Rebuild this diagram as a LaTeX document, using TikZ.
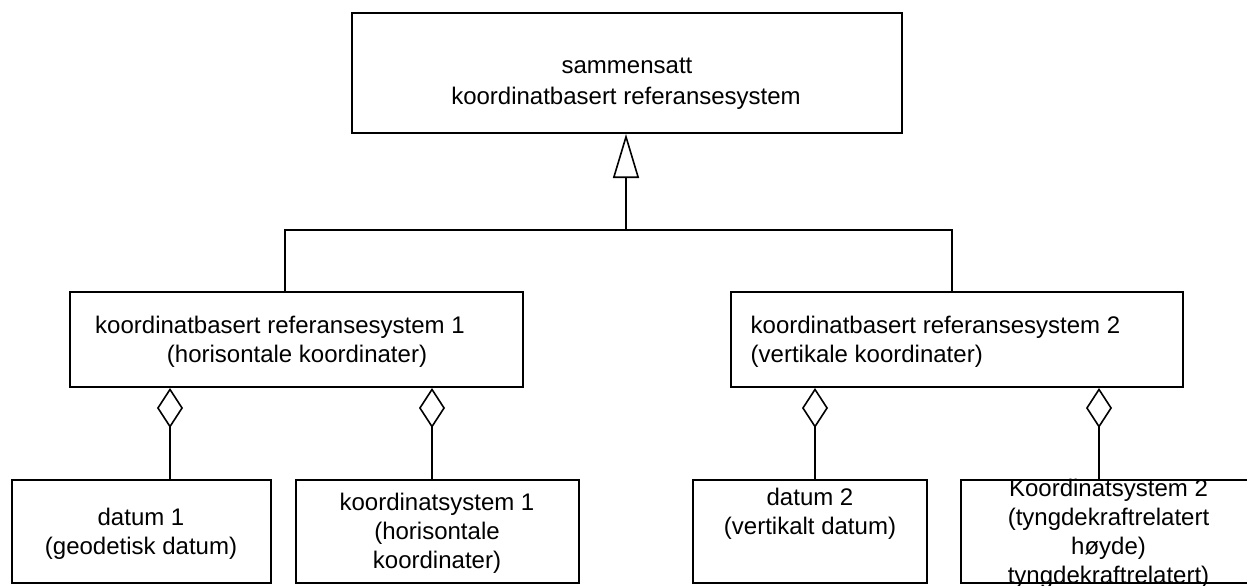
\documentclass[tikz,border=0pt]{standalone}
\usepackage{fontspec}
\setmainfont{Liberation Sans}
\usetikzlibrary{arrows.meta}
\begin{document}
\begin{tikzpicture}[x=1pt,y=-1pt,
  box/.style={draw, line width=2pt, rectangle, inner sep=0pt},
  lbl/.style={inner sep=0pt, font=\fontsize{24}{29}\selectfont},
  conn/.style={line width=1.6pt},
  agg/.style={conn, {Diamond[open,length=40pt,width=26pt]}-},
  gen/.style={conn, -{Triangle[open,length=44pt,width=26pt]}}]
\useasboundingbox (0,0) rectangle (1247,586);
\clip (0,0) rectangle (1247,586);

% boxes
\node[box, minimum width=550pt, minimum height=120pt] (top) at (627,73) {};
\node[box, minimum width=453pt, minimum height=95pt] (box1) at (296.5,339.5) {};
\node[box, minimum width=452pt, minimum height=95pt] (box2) at (957,339.5) {};
\node[box, minimum width=259pt, minimum height=103pt] (box3) at (141.5,531.5) {};
\node[box, minimum width=283pt, minimum height=103pt] (box4) at (437.5,531.5) {};
\node[box, minimum width=234pt, minimum height=103pt] (box5) at (810,531.5) {};
\node[box, minimum width=299pt, minimum height=103pt] (box6) at (1110.5,531.5) {};

% helper coordinates
\coordinate (j) at (626,230);
\coordinate (p1) at (285,230);
\coordinate (p2) at (952,230);
\coordinate (d1) at (170,0);
\coordinate (d2) at (432,0);
\coordinate (d3) at (815,0);
\coordinate (d4) at (1099,0);

% connectors
\draw[gen] (j) -- (top.south -| j);
\draw[conn] (box1.north -| p1) -- (p1) -- (p2) -- (box2.north -| p2);
\draw[agg] (box1.south -| d1) -- (box3.north -| d1);
\draw[agg] (box1.south -| d2) -- (box4.north -| d2);
\draw[agg] (box2.south -| d3) -- (box5.north -| d3);
\draw[agg] (box2.south -| d4) -- (box6.north -| d4);

% texts
\node[lbl, anchor=base] (t0a) at (627,74) {sammensatt};
\node[lbl, anchor=base] (t0b) at (626,104) {koordinatbasert referansesystem};

\node[lbl, anchor=base] (t1a) at (280,333) {koordinatbasert referansesystem 1};
\node[lbl, anchor=base] (t1b) at (297,362) {(horisontale koordinater)};

\node[lbl, anchor=base west] (t2a) at (750.5,333) {koordinatbasert referansesystem 2};
\node[lbl, anchor=base west] (t2b) at (750.5,362) {(vertikale koordinater)};

\node[lbl, anchor=base] (t3a) at (141,525) {datum 1};
\node[lbl, anchor=base] (t3b) at (141,554) {(geodetisk datum)};

\node[lbl, anchor=base] (t4a) at (437,510) {koordinatsystem 1};
\node[lbl, anchor=base] (t4b) at (437,539) {(horisontale};
\node[lbl, anchor=base] (t4c) at (437,568) {koordinater)};

\node[lbl, anchor=base] (t5a) at (810,505) {datum 2};
\node[lbl, anchor=base] (t5b) at (810,534) {(vertikalt datum)};

\node[lbl, anchor=base] (t6a) at (1108.5,496) {Koordinatsystem 2};
\node[lbl, anchor=base] (t6b) at (1108.5,525) {(tyngdekraftrelatert};
\node[lbl, anchor=base] (t6c) at (1108.5,554) {høyde)};
\node[lbl, anchor=base] (t6d) at (1108.5,583) {tyngdekraftrelatert)};
\end{tikzpicture}
\end{document}
